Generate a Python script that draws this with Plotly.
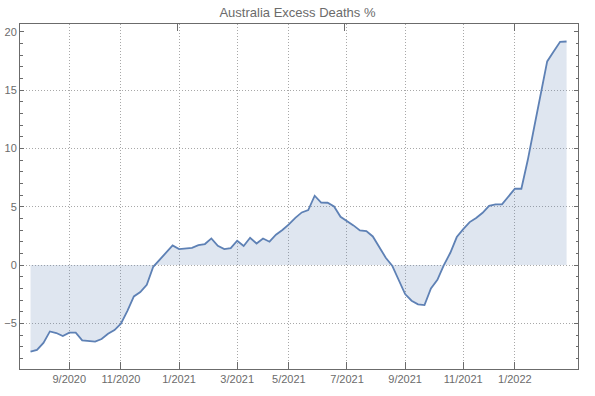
import plotly.graph_objects as go

# Weekly excess deaths (%) for Australia
week_index = list(range(84))
excess_pct = [
    -7.43, -7.28, -6.68, -5.69, -5.83, -6.09, -5.80, -5.80, -6.46, -6.52,
    -6.57, -6.34, -5.89, -5.57, -5.03, -3.92, -2.69, -2.31, -1.69, -0.15,
    0.43, 1.03, 1.68, 1.37, 1.45, 1.48, 1.71, 1.80, 2.28, 1.65,
    1.37, 1.45, 2.08, 1.63, 2.34, 1.85, 2.28, 2.00, 2.60, 3.00,
    3.48, 4.05, 4.51, 4.71, 5.94, 5.36, 5.34, 5.02, 4.14, 3.80,
    3.40, 2.97, 2.91, 2.45, 1.51, 0.63, -0.06, -1.32, -2.49, -3.06,
    -3.37, -3.43, -2.00, -1.26, 0.00, 1.05, 2.40, 3.08, 3.68, 4.04,
    4.48, 5.08, 5.20, 5.20, 5.92, 6.55, 6.54, 9.02, 11.85, 14.68,
    17.45, 18.30, 19.13, 19.16,
]

# Month tick labels (bottom axis) at their week positions
month_tick_pos = [6, 14, 23, 32, 40, 49, 58, 67, 75]
month_tick_text = ["9/2020", "11/2020", "1/2021", "3/2021", "5/2021",
                   "7/2021", "9/2021", "11/2021", "1/2022"]
# Top axis (year / half-year) tick positions
top_tick_pos = [22.7, 48.65, 75.0]

y_tick_vals = [-5, 0, 5, 10, 15, 20]
y_grid_vals = [-5, 0, 5, 10, 15]

x_range = [-1.63, 84.77]
y_range = [-8.91, 20.66]

line_color = "#5E81B5"
fill_color = "rgba(94,129,181,0.2)"
frame_color = "#6b6b6b"
text_color = "#6b6b6b"
grid_color = "#a8a8a8"
font_family = "Liberation Sans, Arial, sans-serif"

fig_w, fig_h = 595, 396

fig = go.Figure()
fig.add_trace(go.Scatter(
    x=week_index, y=excess_pct, mode="lines",
    line=dict(color=line_color, width=1.8),
    fill="tozeroy", fillcolor=fill_color,
    hoverinfo="skip", showlegend=False,
))
# invisible companion trace for the overlay axes (top ticks, horizontal grid)
fig.add_trace(go.Scatter(
    x=week_index, y=excess_pct, mode="lines", xaxis="x2", yaxis="y2",
    line=dict(width=0), opacity=0, hoverinfo="skip", showlegend=False,
))

fig.update_layout(
    width=fig_w, height=fig_h,
    margin=dict(l=20, r=17, t=24, b=27, autoexpand=False),
    paper_bgcolor="white", plot_bgcolor="white",
    font=dict(family=font_family, size=11, color=text_color),
    title=dict(text="Australia Excess Deaths %", x=0.5, xanchor="center",
               y=1 - 12.5 / fig_h, yanchor="middle", automargin=False,
               font=dict(size=13, color=text_color, family=font_family)),
    xaxis=dict(
        range=x_range, tickmode="array", tickvals=month_tick_pos,
        ticktext=month_tick_text, ticks="inside", ticklen=7, tickcolor=frame_color,
        showline=True, linecolor=frame_color, linewidth=1, mirror=True,
        showgrid=True, gridcolor=grid_color, griddash="1px,2px", gridwidth=1,
        zeroline=False, tickfont=dict(size=11, color=text_color), automargin=False,
    ),
    yaxis=dict(
        range=y_range, tickmode="array", tickvals=y_tick_vals,
        ticks="inside", ticklen=4, tickcolor=frame_color,
        minor=dict(dtick=1, tick0=0, ticks="inside", ticklen=2.5,
                   tickcolor=frame_color, showgrid=False),
        showline=True, linecolor=frame_color, linewidth=1, mirror="ticks",
        showgrid=False, zeroline=False, tickfont=dict(size=11, color=text_color),
        automargin=False,
    ),
    xaxis2=dict(
        range=x_range, overlaying="x", side="top", tickmode="array",
        tickvals=top_tick_pos, ticks="inside", ticklen=7, tickcolor=frame_color,
        showticklabels=False, showgrid=False, showline=False, zeroline=False,
        automargin=False,
    ),
    yaxis2=dict(
        range=y_range, overlaying="y", side="left", tickmode="array",
        tickvals=y_grid_vals, ticks="", showticklabels=False,
        showgrid=True, gridcolor=grid_color, griddash="1px,2px", gridwidth=1,
        showline=False, zeroline=False, automargin=False,
    ),
)

# remove the browser's default 8px body margin so the figure fills the window
fig.write_html("out.html", config={"displayModeBar": False},
               post_script="document.body.style.margin='0';")
